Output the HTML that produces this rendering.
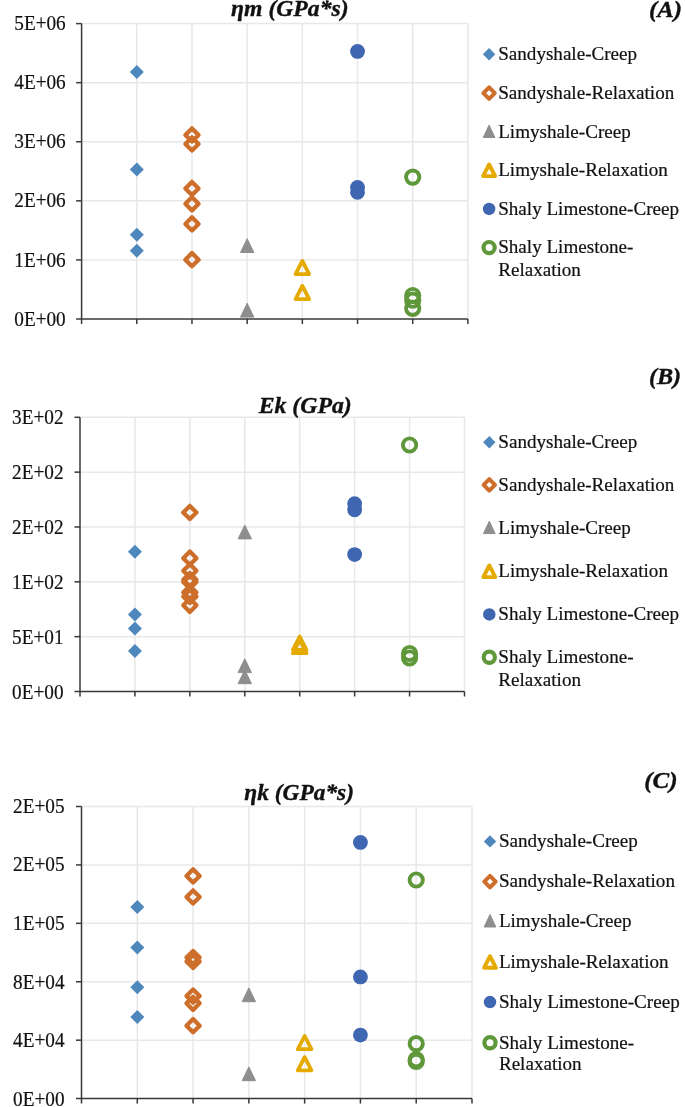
<!DOCTYPE html><html><head><meta charset="utf-8"><style>html,body{margin:0;padding:0;background:#fff;width:685px;height:1107px;overflow:hidden}svg{display:block;will-change:transform}text{font-family:"Liberation Serif",serif}</style></head><body>
<svg width="685" height="1107" viewBox="0 0 685 1107">
<rect width="685" height="1107" fill="#fff"/>
<g stroke="#e8e8e8" stroke-width="1.5"><line x1="81.6" y1="23.6" x2="467.9" y2="23.6"/><line x1="81.6" y1="82.68" x2="467.9" y2="82.68"/><line x1="81.6" y1="141.76" x2="467.9" y2="141.76"/><line x1="81.6" y1="200.84" x2="467.9" y2="200.84"/><line x1="81.6" y1="259.92" x2="467.9" y2="259.92"/><line x1="136.79" y1="23.6" x2="136.79" y2="319"/><line x1="191.97" y1="23.6" x2="191.97" y2="319"/><line x1="247.16" y1="23.6" x2="247.16" y2="319"/><line x1="302.34" y1="23.6" x2="302.34" y2="319"/><line x1="357.53" y1="23.6" x2="357.53" y2="319"/><line x1="412.71" y1="23.6" x2="412.71" y2="319"/><line x1="467.9" y1="23.6" x2="467.9" y2="319"/></g>
<g stroke="#383838" stroke-width="1.5"><line x1="81.6" y1="23.6" x2="81.6" y2="324"/><line x1="76.1" y1="319" x2="467.9" y2="319"/><line x1="76.1" y1="23.6" x2="81.6" y2="23.6"/><line x1="76.1" y1="82.68" x2="81.6" y2="82.68"/><line x1="76.1" y1="141.76" x2="81.6" y2="141.76"/><line x1="76.1" y1="200.84" x2="81.6" y2="200.84"/><line x1="76.1" y1="259.92" x2="81.6" y2="259.92"/><line x1="136.79" y1="319" x2="136.79" y2="324"/><line x1="191.97" y1="319" x2="191.97" y2="324"/><line x1="247.16" y1="319" x2="247.16" y2="324"/><line x1="302.34" y1="319" x2="302.34" y2="324"/><line x1="357.53" y1="319" x2="357.53" y2="324"/><line x1="412.71" y1="319" x2="412.71" y2="324"/><line x1="467.9" y1="319" x2="467.9" y2="324"/></g>
<g font-size="20.3" fill="#111111" stroke="#111111" stroke-width="0.2"><text x="65.7" y="29.7" text-anchor="end" textLength="51.4" lengthAdjust="spacingAndGlyphs">5E+06</text><text x="65.7" y="88.9" text-anchor="end" textLength="51.4" lengthAdjust="spacingAndGlyphs">4E+06</text><text x="65.7" y="148.1" text-anchor="end" textLength="51.4" lengthAdjust="spacingAndGlyphs">3E+06</text><text x="65.7" y="207.3" text-anchor="end" textLength="51.4" lengthAdjust="spacingAndGlyphs">2E+06</text><text x="65.7" y="266.5" text-anchor="end" textLength="51.4" lengthAdjust="spacingAndGlyphs">1E+06</text><text x="65.7" y="325.7" text-anchor="end" textLength="51.4" lengthAdjust="spacingAndGlyphs">0E+00</text></g>
<g font-size="23" font-weight="bold" font-style="italic" fill="#111111" stroke="#111111" stroke-width="0.35"><text x="231.1" y="15.8" textLength="117.5" lengthAdjust="spacingAndGlyphs">ηm (GPa*s)</text><text x="648.9" y="17.1" textLength="33.1" lengthAdjust="spacingAndGlyphs">(A)</text></g>
<g><path d="M136.79 65L143.79 72L136.79 79L129.79 72Z" fill="#4e87bc"/><path d="M136.79 162.4L143.79 169.4L136.79 176.4L129.79 169.4Z" fill="#4e87bc"/><path d="M136.79 227.8L143.79 234.8L136.79 241.8L129.79 234.8Z" fill="#4e87bc"/><path d="M136.79 243.7L143.79 250.7L136.79 257.7L129.79 250.7Z" fill="#4e87bc"/><path d="M191.97 128.4L198.57 135L191.97 141.6L185.37 135Z" fill="none" stroke="#cd6e2a" stroke-width="4.3" stroke-linejoin="round"/><path d="M191.97 137.4L198.57 144L191.97 150.6L185.37 144Z" fill="none" stroke="#cd6e2a" stroke-width="4.3" stroke-linejoin="round"/><path d="M191.97 181.9L198.57 188.5L191.97 195.1L185.37 188.5Z" fill="none" stroke="#cd6e2a" stroke-width="4.3" stroke-linejoin="round"/><path d="M191.97 197.2L198.57 203.8L191.97 210.4L185.37 203.8Z" fill="none" stroke="#cd6e2a" stroke-width="4.3" stroke-linejoin="round"/><path d="M191.97 217.3L198.57 223.9L191.97 230.5L185.37 223.9Z" fill="none" stroke="#cd6e2a" stroke-width="4.3" stroke-linejoin="round"/><path d="M191.97 253.1L198.57 259.7L191.97 266.3L185.37 259.7Z" fill="none" stroke="#cd6e2a" stroke-width="4.3" stroke-linejoin="round"/><path d="M247.16 238.7L253.86 252.5L240.46 252.5Z" fill="#8e8e8e" stroke="#8e8e8e" stroke-width="1" stroke-linejoin="round"/><path d="M247.16 303.3L253.86 317.1L240.46 317.1Z" fill="#8e8e8e" stroke="#8e8e8e" stroke-width="1" stroke-linejoin="round"/><path d="M302.34 260.9L309.14 274.1L295.54 274.1Z" fill="none" stroke="#e5aa00" stroke-width="3.8" stroke-linejoin="round"/><path d="M302.34 285.9L309.14 299.1L295.54 299.1Z" fill="none" stroke="#e5aa00" stroke-width="3.8" stroke-linejoin="round"/><circle cx="357.53" cy="51.4" r="7.4" fill="#3f66b0"/><circle cx="357.53" cy="187.5" r="7.4" fill="#3f66b0"/><circle cx="357.53" cy="192.3" r="7.4" fill="#3f66b0"/><circle cx="412.71" cy="177.1" r="6.65" fill="none" stroke="#5f983a" stroke-width="3.9"/><circle cx="412.71" cy="295.5" r="6.65" fill="none" stroke="#5f983a" stroke-width="3.9"/><circle cx="412.71" cy="300.2" r="6.65" fill="none" stroke="#5f983a" stroke-width="3.9"/><circle cx="412.71" cy="308.3" r="6.65" fill="none" stroke="#5f983a" stroke-width="3.9"/></g>
<g><path d="M489.1 48L495.3 54.2L489.1 60.4L482.9 54.2Z" fill="#4e87bc"/><path d="M489.1 87.4L494.8 93.1L489.1 98.8L483.4 93.1Z" fill="none" stroke="#cd6e2a" stroke-width="4" stroke-linejoin="round"/><path d="M489.1 125.1L494.95 137.5L483.25 137.5Z" fill="#8e8e8e" stroke="#8e8e8e" stroke-width="1" stroke-linejoin="round"/><path d="M489.1 164.5L495.1 176.1L483.1 176.1Z" fill="none" stroke="#e5aa00" stroke-width="3.9" stroke-linejoin="round"/><circle cx="489.1" cy="208.9" r="6.25" fill="#3f66b0"/><circle cx="489.1" cy="247.6" r="5.6" fill="none" stroke="#5f983a" stroke-width="4.2"/></g>
<g font-size="19.1" fill="#111111" stroke="#111111" stroke-width="0.2"><text x="498.2" y="60">Sandyshale-Creep</text><text x="498.2" y="98.9">Sandyshale-Relaxation</text><text x="498.2" y="137.8">Limyshale-Creep</text><text x="498.2" y="176.1">Limyshale-Relaxation</text><text x="498.2" y="214.7">Shaly Limestone-Creep</text><text x="498.2" y="253.4">Shaly Limestone-</text><text x="498.2" y="275.8">Relaxation</text></g>
<g stroke="#e8e8e8" stroke-width="1.5"><line x1="80" y1="417.3" x2="464.5" y2="417.3"/><line x1="80" y1="472.14" x2="464.5" y2="472.14"/><line x1="80" y1="526.98" x2="464.5" y2="526.98"/><line x1="80" y1="581.82" x2="464.5" y2="581.82"/><line x1="80" y1="636.66" x2="464.5" y2="636.66"/><line x1="134.93" y1="417.3" x2="134.93" y2="691.5"/><line x1="189.86" y1="417.3" x2="189.86" y2="691.5"/><line x1="244.79" y1="417.3" x2="244.79" y2="691.5"/><line x1="299.71" y1="417.3" x2="299.71" y2="691.5"/><line x1="354.64" y1="417.3" x2="354.64" y2="691.5"/><line x1="409.57" y1="417.3" x2="409.57" y2="691.5"/><line x1="464.5" y1="417.3" x2="464.5" y2="691.5"/></g>
<g stroke="#383838" stroke-width="1.5"><line x1="80" y1="417.3" x2="80" y2="696.5"/><line x1="74.5" y1="691.5" x2="464.5" y2="691.5"/><line x1="74.5" y1="417.3" x2="80" y2="417.3"/><line x1="74.5" y1="472.14" x2="80" y2="472.14"/><line x1="74.5" y1="526.98" x2="80" y2="526.98"/><line x1="74.5" y1="581.82" x2="80" y2="581.82"/><line x1="74.5" y1="636.66" x2="80" y2="636.66"/><line x1="134.93" y1="691.5" x2="134.93" y2="696.5"/><line x1="189.86" y1="691.5" x2="189.86" y2="696.5"/><line x1="244.79" y1="691.5" x2="244.79" y2="696.5"/><line x1="299.71" y1="691.5" x2="299.71" y2="696.5"/><line x1="354.64" y1="691.5" x2="354.64" y2="696.5"/><line x1="409.57" y1="691.5" x2="409.57" y2="696.5"/><line x1="464.5" y1="691.5" x2="464.5" y2="696.5"/></g>
<g font-size="20.3" fill="#111111" stroke="#111111" stroke-width="0.2"><text x="63.5" y="423.8" text-anchor="end" textLength="51.4" lengthAdjust="spacingAndGlyphs">3E+02</text><text x="63.5" y="478.76" text-anchor="end" textLength="51.4" lengthAdjust="spacingAndGlyphs">2E+02</text><text x="63.5" y="533.72" text-anchor="end" textLength="51.4" lengthAdjust="spacingAndGlyphs">2E+02</text><text x="63.5" y="588.68" text-anchor="end" textLength="51.4" lengthAdjust="spacingAndGlyphs">1E+02</text><text x="63.5" y="643.64" text-anchor="end" textLength="51.4" lengthAdjust="spacingAndGlyphs">5E+01</text><text x="63.5" y="698.6" text-anchor="end" textLength="51.4" lengthAdjust="spacingAndGlyphs">0E+00</text></g>
<g font-size="23" font-weight="bold" font-style="italic" fill="#111111" stroke="#111111" stroke-width="0.35"><text x="258.7" y="413.2" textLength="93.1" lengthAdjust="spacingAndGlyphs">Ek (GPa)</text><text x="648.9" y="384.2" textLength="32.3" lengthAdjust="spacingAndGlyphs">(B)</text></g>
<g><path d="M134.93 544.8L141.93 551.8L134.93 558.8L127.93 551.8Z" fill="#4e87bc"/><path d="M134.93 607.5L141.93 614.5L134.93 621.5L127.93 614.5Z" fill="#4e87bc"/><path d="M134.93 621.6L141.93 628.6L134.93 635.6L127.93 628.6Z" fill="#4e87bc"/><path d="M134.93 643.9L141.93 650.9L134.93 657.9L127.93 650.9Z" fill="#4e87bc"/><path d="M189.86 505.9L196.46 512.5L189.86 519.1L183.26 512.5Z" fill="none" stroke="#cd6e2a" stroke-width="4.3" stroke-linejoin="round"/><path d="M189.86 551.6L196.46 558.2L189.86 564.8L183.26 558.2Z" fill="none" stroke="#cd6e2a" stroke-width="4.3" stroke-linejoin="round"/><path d="M189.86 564.25L196.46 570.85L189.86 577.45L183.26 570.85Z" fill="none" stroke="#cd6e2a" stroke-width="4.3" stroke-linejoin="round"/><path d="M189.86 573.05L196.46 579.65L189.86 586.25L183.26 579.65Z" fill="none" stroke="#cd6e2a" stroke-width="4.3" stroke-linejoin="round"/><path d="M189.86 575.4L196.46 582L189.86 588.6L183.26 582Z" fill="none" stroke="#cd6e2a" stroke-width="4.3" stroke-linejoin="round"/><path d="M189.86 585.8L196.46 592.4L189.86 599L183.26 592.4Z" fill="none" stroke="#cd6e2a" stroke-width="4.3" stroke-linejoin="round"/><path d="M189.86 589.8L196.46 596.4L189.86 603L183.26 596.4Z" fill="none" stroke="#cd6e2a" stroke-width="4.3" stroke-linejoin="round"/><path d="M189.86 598.7L196.46 605.3L189.86 611.9L183.26 605.3Z" fill="none" stroke="#cd6e2a" stroke-width="4.3" stroke-linejoin="round"/><path d="M244.79 525.1L251.49 538.9L238.09 538.9Z" fill="#8e8e8e" stroke="#8e8e8e" stroke-width="1" stroke-linejoin="round"/><path d="M244.79 658.8L251.49 672.6L238.09 672.6Z" fill="#8e8e8e" stroke="#8e8e8e" stroke-width="1" stroke-linejoin="round"/><path d="M244.79 669.9L251.49 683.7L238.09 683.7Z" fill="#8e8e8e" stroke="#8e8e8e" stroke-width="1" stroke-linejoin="round"/><path d="M299.71 636.6L306.51 649.8L292.91 649.8Z" fill="none" stroke="#e5aa00" stroke-width="3.8" stroke-linejoin="round"/><path d="M299.71 640L306.51 653.2L292.91 653.2Z" fill="none" stroke="#e5aa00" stroke-width="3.8" stroke-linejoin="round"/><circle cx="354.64" cy="503.7" r="7.4" fill="#3f66b0"/><circle cx="354.64" cy="509.8" r="7.4" fill="#3f66b0"/><circle cx="354.64" cy="554.6" r="7.4" fill="#3f66b0"/><circle cx="409.57" cy="445" r="6.65" fill="none" stroke="#5f983a" stroke-width="3.9"/><circle cx="409.57" cy="653.5" r="6.65" fill="none" stroke="#5f983a" stroke-width="3.9"/><circle cx="409.57" cy="658" r="6.65" fill="none" stroke="#5f983a" stroke-width="3.9"/></g>
<g><path d="M489.3 436.1L495.5 442.3L489.3 448.5L483.1 442.3Z" fill="#4e87bc"/><path d="M489.3 479.2L495 484.9L489.3 490.6L483.6 484.9Z" fill="none" stroke="#cd6e2a" stroke-width="4" stroke-linejoin="round"/><path d="M489.3 521.2L495.15 533.6L483.45 533.6Z" fill="#8e8e8e" stroke="#8e8e8e" stroke-width="1" stroke-linejoin="round"/><path d="M489.3 565.5L495.3 577.1L483.3 577.1Z" fill="none" stroke="#e5aa00" stroke-width="3.9" stroke-linejoin="round"/><circle cx="489.3" cy="614.4" r="6.25" fill="#3f66b0"/><circle cx="489.3" cy="657.2" r="5.6" fill="none" stroke="#5f983a" stroke-width="4.2"/></g>
<g font-size="19.1" fill="#111111" stroke="#111111" stroke-width="0.2"><text x="498.3" y="448.1">Sandyshale-Creep</text><text x="498.3" y="490.7">Sandyshale-Relaxation</text><text x="498.3" y="533.9">Limyshale-Creep</text><text x="498.3" y="577.1">Limyshale-Relaxation</text><text x="498.3" y="620.2">Shaly Limestone-Creep</text><text x="498.3" y="663">Shaly Limestone-</text><text x="498.3" y="685.5">Relaxation</text></g>
<g stroke="#e8e8e8" stroke-width="1.5"><line x1="81.5" y1="806.5" x2="472" y2="806.5"/><line x1="81.5" y1="864.92" x2="472" y2="864.92"/><line x1="81.5" y1="923.34" x2="472" y2="923.34"/><line x1="81.5" y1="981.76" x2="472" y2="981.76"/><line x1="81.5" y1="1040.18" x2="472" y2="1040.18"/><line x1="137.29" y1="806.5" x2="137.29" y2="1098.6"/><line x1="193.07" y1="806.5" x2="193.07" y2="1098.6"/><line x1="248.86" y1="806.5" x2="248.86" y2="1098.6"/><line x1="304.64" y1="806.5" x2="304.64" y2="1098.6"/><line x1="360.43" y1="806.5" x2="360.43" y2="1098.6"/><line x1="416.21" y1="806.5" x2="416.21" y2="1098.6"/><line x1="472" y1="806.5" x2="472" y2="1098.6"/></g>
<g stroke="#383838" stroke-width="1.5"><line x1="81.5" y1="806.5" x2="81.5" y2="1103.6"/><line x1="76" y1="1098.6" x2="472" y2="1098.6"/><line x1="76" y1="806.5" x2="81.5" y2="806.5"/><line x1="76" y1="864.92" x2="81.5" y2="864.92"/><line x1="76" y1="923.34" x2="81.5" y2="923.34"/><line x1="76" y1="981.76" x2="81.5" y2="981.76"/><line x1="76" y1="1040.18" x2="81.5" y2="1040.18"/><line x1="137.29" y1="1098.6" x2="137.29" y2="1103.6"/><line x1="193.07" y1="1098.6" x2="193.07" y2="1103.6"/><line x1="248.86" y1="1098.6" x2="248.86" y2="1103.6"/><line x1="304.64" y1="1098.6" x2="304.64" y2="1103.6"/><line x1="360.43" y1="1098.6" x2="360.43" y2="1103.6"/><line x1="416.21" y1="1098.6" x2="416.21" y2="1103.6"/><line x1="472" y1="1098.6" x2="472" y2="1103.6"/></g>
<g font-size="20.3" fill="#111111" stroke="#111111" stroke-width="0.2"><text x="64.5" y="812.9" text-anchor="end" textLength="51.4" lengthAdjust="spacingAndGlyphs">2E+05</text><text x="64.5" y="871.44" text-anchor="end" textLength="51.4" lengthAdjust="spacingAndGlyphs">2E+05</text><text x="64.5" y="929.98" text-anchor="end" textLength="51.4" lengthAdjust="spacingAndGlyphs">1E+05</text><text x="64.5" y="988.52" text-anchor="end" textLength="51.4" lengthAdjust="spacingAndGlyphs">8E+04</text><text x="64.5" y="1047.06" text-anchor="end" textLength="51.4" lengthAdjust="spacingAndGlyphs">4E+04</text><text x="64.5" y="1105.6" text-anchor="end" textLength="51.4" lengthAdjust="spacingAndGlyphs">0E+00</text></g>
<g font-size="23" font-weight="bold" font-style="italic" fill="#111111" stroke="#111111" stroke-width="0.35"><text x="244.3" y="799.8" textLength="109.7" lengthAdjust="spacingAndGlyphs">ηk (GPa*s)</text><text x="644.2" y="788" textLength="33.4" lengthAdjust="spacingAndGlyphs">(C)</text></g>
<g><path d="M137.29 900.1L144.29 907.1L137.29 914.1L130.29 907.1Z" fill="#4e87bc"/><path d="M137.29 940.4L144.29 947.4L137.29 954.4L130.29 947.4Z" fill="#4e87bc"/><path d="M137.29 980.2L144.29 987.2L137.29 994.2L130.29 987.2Z" fill="#4e87bc"/><path d="M137.29 1010.1L144.29 1017.1L137.29 1024.1L130.29 1017.1Z" fill="#4e87bc"/><path d="M193.07 869.3L199.67 875.9L193.07 882.5L186.47 875.9Z" fill="none" stroke="#cd6e2a" stroke-width="4.3" stroke-linejoin="round"/><path d="M193.07 890.4L199.67 897L193.07 903.6L186.47 897Z" fill="none" stroke="#cd6e2a" stroke-width="4.3" stroke-linejoin="round"/><path d="M193.07 951L199.67 957.6L193.07 964.2L186.47 957.6Z" fill="none" stroke="#cd6e2a" stroke-width="4.3" stroke-linejoin="round"/><path d="M193.07 954.9L199.67 961.5L193.07 968.1L186.47 961.5Z" fill="none" stroke="#cd6e2a" stroke-width="4.3" stroke-linejoin="round"/><path d="M193.07 989.5L199.67 996.1L193.07 1002.7L186.47 996.1Z" fill="none" stroke="#cd6e2a" stroke-width="4.3" stroke-linejoin="round"/><path d="M193.07 996.7L199.67 1003.3L193.07 1009.9L186.47 1003.3Z" fill="none" stroke="#cd6e2a" stroke-width="4.3" stroke-linejoin="round"/><path d="M193.07 1019.1L199.67 1025.7L193.07 1032.3L186.47 1025.7Z" fill="none" stroke="#cd6e2a" stroke-width="4.3" stroke-linejoin="round"/><path d="M248.86 987.9L255.56 1001.7L242.16 1001.7Z" fill="#8e8e8e" stroke="#8e8e8e" stroke-width="1" stroke-linejoin="round"/><path d="M248.86 1066.9L255.56 1080.7L242.16 1080.7Z" fill="#8e8e8e" stroke="#8e8e8e" stroke-width="1" stroke-linejoin="round"/><path d="M304.64 1036L311.44 1049.2L297.84 1049.2Z" fill="none" stroke="#e5aa00" stroke-width="3.8" stroke-linejoin="round"/><path d="M304.64 1057.2L311.44 1070.4L297.84 1070.4Z" fill="none" stroke="#e5aa00" stroke-width="3.8" stroke-linejoin="round"/><circle cx="360.43" cy="842.4" r="7.4" fill="#3f66b0"/><circle cx="360.43" cy="976.9" r="7.4" fill="#3f66b0"/><circle cx="360.43" cy="1035.1" r="7.4" fill="#3f66b0"/><circle cx="416.21" cy="880" r="6.65" fill="none" stroke="#5f983a" stroke-width="3.9"/><circle cx="416.21" cy="1043.6" r="6.65" fill="none" stroke="#5f983a" stroke-width="3.9"/><circle cx="416.21" cy="1059.7" r="6.65" fill="none" stroke="#5f983a" stroke-width="3.9"/><circle cx="416.21" cy="1061.4" r="6.65" fill="none" stroke="#5f983a" stroke-width="3.9"/></g>
<g><path d="M490 835.2L496.2 841.4L490 847.6L483.8 841.4Z" fill="#4e87bc"/><path d="M490 875.9L495.7 881.6L490 887.3L484.3 881.6Z" fill="none" stroke="#cd6e2a" stroke-width="4" stroke-linejoin="round"/><path d="M490 914.6L495.85 927L484.15 927Z" fill="#8e8e8e" stroke="#8e8e8e" stroke-width="1" stroke-linejoin="round"/><path d="M490 956.2L496 967.8L484 967.8Z" fill="none" stroke="#e5aa00" stroke-width="3.9" stroke-linejoin="round"/><circle cx="490" cy="1002.1" r="6.25" fill="#3f66b0"/><circle cx="490" cy="1042.7" r="5.6" fill="none" stroke="#5f983a" stroke-width="4.2"/></g>
<g font-size="19.1" fill="#111111" stroke="#111111" stroke-width="0.2"><text x="498.9" y="847.2">Sandyshale-Creep</text><text x="498.9" y="887.4">Sandyshale-Relaxation</text><text x="498.9" y="927.3">Limyshale-Creep</text><text x="498.9" y="967.8">Limyshale-Relaxation</text><text x="498.9" y="1007.9">Shaly Limestone-Creep</text><text x="498.9" y="1048.5">Shaly Limestone-</text><text x="498.9" y="1070.2">Relaxation</text></g>
</svg></body></html>
